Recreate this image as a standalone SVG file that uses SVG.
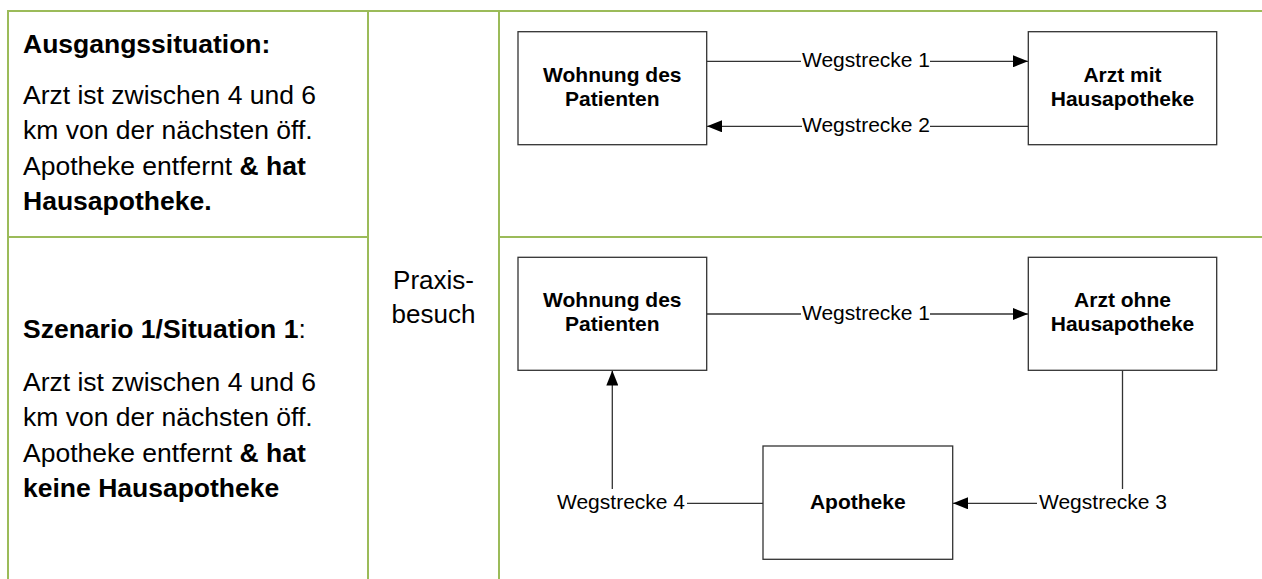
<svg xmlns="http://www.w3.org/2000/svg" width="1262" height="579" viewBox="0 0 1262 579">
<style>
.grid{stroke:#9bbb59;stroke-width:2;fill:none}
.cell{font-family:"Liberation Sans",Arial,sans-serif;font-size:26.5px;fill:#000}
.b{font-weight:bold}
.mid{font-family:"Liberation Sans",Arial,sans-serif;font-size:26px;fill:#000;text-anchor:middle}
.box{fill:#fff;stroke:#333;stroke-width:1.3}
.lbl{font-family:"Liberation Sans",Arial,sans-serif;font-size:21px;font-weight:bold;fill:#000;text-anchor:middle}
.wl{font-family:"Liberation Sans",Arial,sans-serif;font-size:21px;fill:#000}
.ln{stroke:#333;stroke-width:1.3;fill:none}
</style>
<defs>
<marker id="ah" markerUnits="userSpaceOnUse" markerWidth="16" markerHeight="12" refX="15" refY="6" orient="auto">
<path d="M0,0 L15,6 L0,12 Z" fill="#000"/>
</marker>
</defs>
<rect width="1262" height="579" fill="#fff"/>
<g id="table">
<line class="grid" x1="8" y1="11" x2="1262" y2="11"/>
<line class="grid" x1="8" y1="10" x2="8" y2="579"/>
<line class="grid" x1="368" y1="10" x2="368" y2="579"/>
<line class="grid" x1="499" y1="10" x2="499" y2="579"/>
<line class="grid" x1="8" y1="237" x2="368" y2="237"/>
<line class="grid" x1="499" y1="237" x2="1262" y2="237"/>
</g>
<g id="cell-ausgang">
<text class="cell b" x="23" y="52.5">Ausgangssituation:</text>
<text class="cell" x="23" y="104">Arzt ist zwischen 4 und 6</text>
<text class="cell" x="23" y="139.3">km von der nächsten öff.</text>
<text class="cell" x="23" y="174.6">Apotheke entfernt <tspan class="b">&amp; hat</tspan></text>
<text class="cell b" x="23" y="210">Hausapotheke.</text>
</g>
<g id="cell-szenario">
<text class="cell" x="23" y="338.3"><tspan class="b">Szenario 1/Situation 1</tspan>:</text>
<text class="cell" x="23" y="391">Arzt ist zwischen 4 und 6</text>
<text class="cell" x="23" y="426.3">km von der nächsten öff.</text>
<text class="cell" x="23" y="461.6">Apotheke entfernt <tspan class="b">&amp; hat</tspan></text>
<text class="cell b" x="23" y="497">keine Hausapotheke</text>
</g>
<g id="cell-praxis">
<text class="mid" x="433.5" y="288.5">Praxis-</text>
<text class="mid" x="433.5" y="322.7">besuch</text>
</g>
<g id="connectors">
<line class="ln" x1="707" y1="61.3" x2="801" y2="61.3"/>
<line class="ln" x1="930" y1="61.3" x2="1028" y2="61.3" marker-end="url(#ah)"/>
<line class="ln" x1="802" y1="126.3" x2="707" y2="126.3" marker-end="url(#ah)"/>
<line class="ln" x1="930" y1="126.3" x2="1028" y2="126.3"/>
<line class="ln" x1="707" y1="314" x2="801" y2="314"/>
<line class="ln" x1="930" y1="314" x2="1028" y2="314" marker-end="url(#ah)"/>
<line class="ln" x1="1122.5" y1="370.5" x2="1122.5" y2="489"/>
<line class="ln" x1="1037" y1="503.3" x2="953" y2="503.3" marker-end="url(#ah)"/>
<line class="ln" x1="687" y1="503.3" x2="763" y2="503.3"/>
<line class="ln" x1="612.3" y1="489" x2="612.3" y2="370.5" marker-end="url(#ah)"/>
<text class="wl" x="866" y="67.3" text-anchor="middle">Wegstrecke 1</text>
<text class="wl" x="866" y="132.3" text-anchor="middle">Wegstrecke 2</text>
<text class="wl" x="866" y="320" text-anchor="middle">Wegstrecke 1</text>
<text class="wl" x="1103" y="509.3" text-anchor="middle">Wegstrecke 3</text>
<text class="wl" x="621" y="509.3" text-anchor="middle">Wegstrecke 4</text>
</g>
<g id="node-wohnung-1">
<rect class="box" x="518" y="31.7" width="188.7" height="113"/>
<text class="lbl" x="612.3" y="81.7">Wohnung des</text>
<text class="lbl" x="612.3" y="106">Patienten</text>
</g>
<g id="node-arzt-mit">
<rect class="box" x="1028.3" y="31.7" width="188.4" height="113"/>
<text class="lbl" x="1122.5" y="81.7">Arzt mit</text>
<text class="lbl" x="1122.5" y="106">Hausapotheke</text>
</g>
<g id="node-wohnung-2">
<rect class="box" x="518" y="257.3" width="188.7" height="113"/>
<text class="lbl" x="612.3" y="306.7">Wohnung des</text>
<text class="lbl" x="612.3" y="331.2">Patienten</text>
</g>
<g id="node-arzt-ohne">
<rect class="box" x="1028.3" y="257.3" width="188.4" height="113"/>
<text class="lbl" x="1122.5" y="306.7">Arzt ohne</text>
<text class="lbl" x="1122.5" y="331.2">Hausapotheke</text>
</g>
<g id="node-apotheke">
<rect class="box" x="763" y="446" width="189.7" height="113.3"/>
<text class="lbl" x="857.8" y="508.7">Apotheke</text>
</g>
</svg>
